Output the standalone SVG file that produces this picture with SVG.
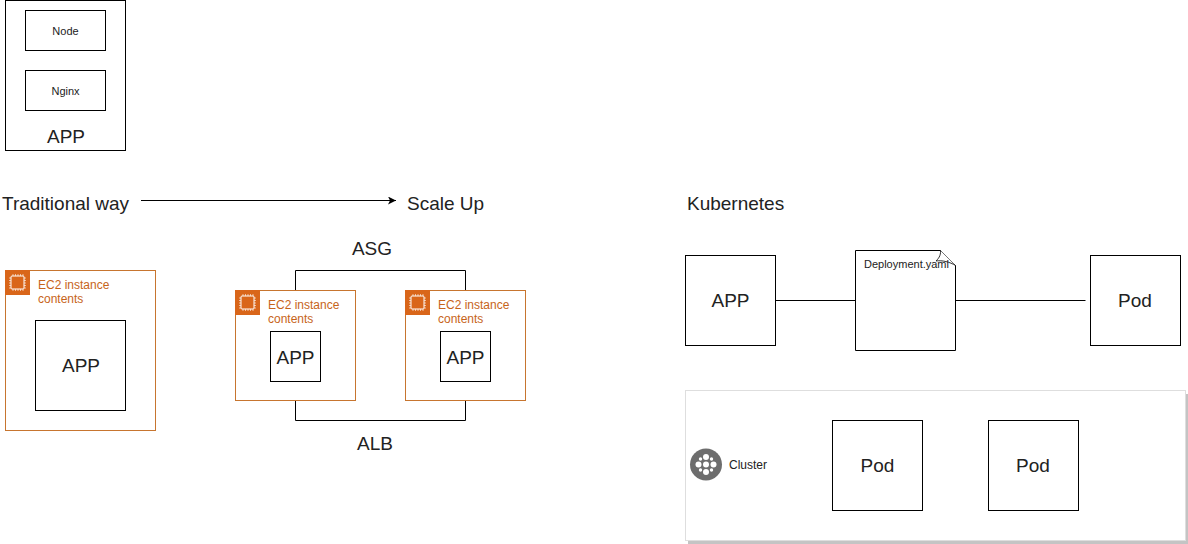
<svg xmlns="http://www.w3.org/2000/svg" width="1188" height="544" viewBox="0 0 1188 544">
<defs>
<style>
text{font-family:"Liberation Sans",Arial,sans-serif;fill:#222}
.b{fill:#fff;stroke:#000;stroke-width:1}
.l{font-size:19px;text-anchor:middle}
.t{font-size:19px}
.s{font-size:11px;text-anchor:middle}
.e{fill:#fff;stroke:#c7752f;stroke-width:1}
.et{font-size:12px;fill:#c7641a}
.c{fill:none;stroke:#000;stroke-width:1}
</style>
<marker id="arr" markerWidth="9" markerHeight="8" refX="8" refY="4" orient="auto" markerUnits="userSpaceOnUse"><path d="M0 0L8 4L0 8L2 4Z" fill="#000"/></marker>
<g id="chip">
<rect width="25" height="25" fill="#d9661a"/>
<rect x="6" y="6" width="13" height="13" rx="1" fill="none" stroke="#fff" stroke-width="1"/>
<path d="M8 4V6M10.500 4V6M13 4V6M15.500 4V6M18 4V6M8 19V21M10.500 19V21M13 19V21M15.500 19V21M18 19V21M4 8H6M4 10.500H6M4 13H6M4 15.500H6M4 18H6M19 8H21M19 10.500H21M19 13H21M19 15.500H21M19 18H21" stroke="#fff" stroke-width=".6" fill="none"/>
</g>
</defs>
<rect width="1188" height="544" fill="#fff"/>
<g id="connectors">
<path class="c" d="M141 200.500H396" marker-end="url(#arr)"/>
<path class="c" d="M295.500 290.500V270.500H465.500V290.500"/>
<path class="c" d="M295.500 400.500V420.500H465.500V400.500"/>
<path class="c" d="M775.500 300.500H855.500"/>
<path class="c" d="M955.500 300.500H1085.500"/>
</g>
<g id="app-stack">
<rect class="b" x="5.500" y="0.500" width="120" height="150"/>
<text class="l" x="66" y="143">APP</text>
</g>
<g id="node"><rect class="b" x="25.500" y="10.500" width="80" height="40"/><text class="s" x="65.500" y="35">Node</text></g>
<g id="nginx"><rect class="b" x="25.500" y="70.500" width="80" height="40"/><text class="s" x="65.500" y="95">Nginx</text></g>
<g id="label-traditional"><text class="t" x="2" y="210">Traditional way</text></g>
<g id="label-scale"><text class="t" x="407" y="210">Scale Up</text></g>
<g id="label-k8s"><text class="t" x="687" y="210">Kubernetes</text></g>
<g id="label-asg"><text class="l" x="372" y="255">ASG</text></g>
<g id="label-alb"><text class="l" x="375" y="450">ALB</text></g>
<g id="ec2-a">
<rect class="e" x="5.500" y="270.500" width="150" height="160"/>
<use href="#chip" x="5" y="270"/>
<text class="et" x="38" y="289">EC2 instance</text><text class="et" x="38" y="303">contents</text>
</g>
<g id="app-a"><rect class="b" x="35.500" y="320.500" width="90" height="90"/><text class="l" x="81" y="372">APP</text></g>
<g id="ec2-b">
<rect class="e" x="235.500" y="290.500" width="120" height="110"/>
<use href="#chip" x="235" y="290"/>
<text class="et" x="268" y="309">EC2 instance</text><text class="et" x="268" y="323">contents</text>
</g>
<g id="app-b"><rect class="b" x="270.500" y="331.500" width="50" height="50"/><text class="l" x="295.500" y="364">APP</text></g>
<g id="ec2-c">
<rect class="e" x="405.500" y="290.500" width="120" height="110"/>
<use href="#chip" x="405" y="290"/>
<text class="et" x="438" y="309">EC2 instance</text><text class="et" x="438" y="323">contents</text>
</g>
<g id="app-c"><rect class="b" x="440.500" y="331.500" width="50" height="50"/><text class="l" x="465.500" y="364">APP</text></g>
<g id="app-k"><rect class="b" x="685.500" y="255.500" width="90" height="90"/><text class="l" x="730.500" y="307">APP</text></g>
<g id="deployment">
<path class="b" d="M855.500 250.500H940.500L955.500 265.500V350.500H855.500Z"/>
<path d="M940.500 250.500C941 256 938 259 936 261C942 260 950 262 955.500 265.500" fill="#fff" stroke="#000" stroke-width=".8"/>
<text x="864" y="268" font-size="11">Deployment.yaml</text>
</g>
<g id="pod-top"><rect class="b" x="1090.500" y="255.500" width="90" height="90"/><text class="l" x="1135" y="307">Pod</text></g>
<g id="cluster">
<rect x="688" y="394" width="500" height="150" fill="#c4c4c4"/>
<rect x="685.500" y="390.500" width="500" height="150" fill="#fff" stroke="#dedede"/>
<circle cx="706" cy="464.500" r="16" fill="#6d6d6d"/>
<g fill="#fff">
<circle cx="706" cy="464.500" r="3"/><circle cx="706" cy="457" r="3"/><circle cx="706" cy="472" r="3"/><circle cx="698.500" cy="464.500" r="3"/><circle cx="713.500" cy="464.500" r="3"/>
<circle cx="700.500" cy="459" r="1.700"/><circle cx="711.500" cy="459" r="1.700"/><circle cx="700.500" cy="470" r="1.700"/><circle cx="711.500" cy="470" r="1.700"/>
</g>
<text x="729" y="469" font-size="12">Cluster</text>
</g>
<g id="pod-1"><rect class="b" x="832.500" y="420.500" width="90" height="90"/><text class="l" x="877.500" y="472">Pod</text></g>
<g id="pod-2"><rect class="b" x="988.500" y="420.500" width="90" height="90"/><text class="l" x="1033" y="472">Pod</text></g>
</svg>
